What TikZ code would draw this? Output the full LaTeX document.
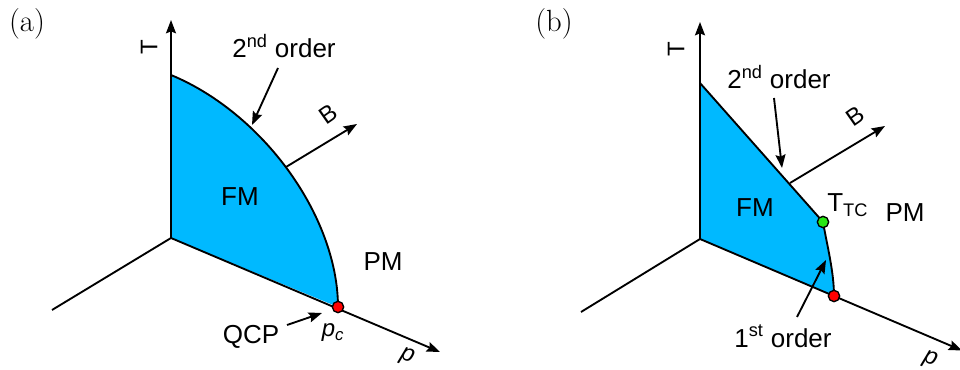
\documentclass[tikz,border=0pt]{standalone}
\usepackage{fontspec}
\setsansfont{Liberation Sans}
\usepackage{tikz}
\usetikzlibrary{arrows.meta}

\definecolor{fmblue}{RGB}{0,185,255}
\definecolor{tcgreen}{RGB}{40,230,20}

\begin{document}
\begin{tikzpicture}[
x=0.75pt, y=-0.75pt,
axis/.style={-{Stealth[length=10pt,width=7.5pt,inset=1.5pt]},line width=1.4pt},
border/.style={line width=1.4pt},
pointer/.style={-{Stealth[length=10pt,width=7.5pt,inset=1.5pt]},line width=1.4pt},
phase/.style={font=\sffamily\fontsize{19.5}{22}\selectfont},
axislabel/.style={font=\sffamily\fontsize{18}{20}\selectfont,inner sep=0pt},
panel/.style={font=\fontsize{23}{26}\selectfont},
dot/.style={circle,draw,line width=1pt,inner sep=0pt,minimum size=8.5pt} ]

\useasboundingbox (0,0) rectangle (960,370);

% (a) continuous transition
\coordinate (oa) at (171,238);
\coordinate (ta) at (171,20);
\coordinate (la) at (52,310);
\coordinate (pa) at (440,352);
\coordinate (ba0) at (286,167);
\coordinate (ba) at (357,124);

\fill[fmblue] (oa) -- plot[domain=0:90,samples=60] ({171+167*cos(\x)},{238+69*cos(\x)-163*sin(\x)}) -- cycle;

\draw[border] plot[domain=0:90,samples=60] ({171+167*cos(\x)},{238+69*cos(\x)-163*sin(\x)});

\draw[axis] (oa) -- (ta);

\draw[border] (oa) -- (la);

\draw[axis] (oa) -- (pa);

\draw[axis] (ba0) -- (ba);

\node[panel] (laba) at (27,24) {(a)};

\node[axislabel,rotate=90] (Ta) at (149,47) {T};

\node[axislabel,rotate=35] (Ba) at (328,114) {B};

\node[axislabel,rotate=-20] (Pa) at (407,357) {\textit{p}};

\node[phase] (FMa) at (240,197) {FM};

\node[phase] (PMa) at (383,262) {PM};

\node[phase,anchor=base] (orda) at (284,58) {2\textsuperscript{nd} order};

\node[phase,anchor=base] (qcp) at (251,344) {QCP};

\node[axislabel] (pca) at (333,333) {\textit{p}\textsubscript{\textit{c}}};

\coordinate (orda0) at (278,68);
\coordinate (orda1) at (252,125);
\coordinate (qcp0) at (287,325);
\coordinate (qcp1) at (322,313);

\draw[pointer] (orda0) -- (orda1);

\draw[pointer] (qcp0) -- (qcp1);

\node[dot,fill=red] (qcpa) at (338,307) {};

% (b) tricritical point
\coordinate (ob) at (700,239);
\coordinate (tb) at (700,22);
\coordinate (lb) at (581,312);
\coordinate (pb) at (962,350.5);
\coordinate (bb0) at (790,183);
\coordinate (bb) at (885,126);
\coordinate (topb) at (700,83);
\coordinate (tcb) at (823,222);
\coordinate (endb) at (834,296);

\fill[fmblue] (ob) -- (endb) .. controls (834,272) and (827,245) .. (tcb) -- (topb) -- cycle;

\draw[border] (topb) -- (tcb) .. controls (827,245) and (834,272) .. (endb);

\draw[axis] (ob) -- (tb);

\draw[border] (ob) -- (lb);

\draw[axis] (ob) -- (pb);

\draw[axis] (bb0) -- (bb);

\node[panel] (labb) at (554,24) {(b)};

\node[axislabel,rotate=90] (Tb) at (676,49) {T};

\node[axislabel,rotate=35] (Bb) at (855,116) {B};

\node[axislabel,rotate=-20] (Pb) at (930,360) {\textit{p}};

\node[phase,anchor=base] (FMb) at (755,217) {FM};

\node[phase,anchor=base] (PMb) at (905,222) {PM};

\node[phase,anchor=base west,inner sep=0pt] (TTC) at (827,212) {T\textsubscript{TC}};

\node[phase,anchor=base] (ordb) at (779,89) {2\textsuperscript{nd} order};

\node[phase,anchor=base] (ordb1) at (783,347) {1\textsuperscript{st} order};

\coordinate (ordb0) at (774,98);
\coordinate (ordb2) at (782,168);
\coordinate (frsb0) at (797,317);
\coordinate (frsb1) at (826,260);

\draw[pointer] (ordb0) -- (ordb2);

\draw[pointer] (frsb0) -- (frsb1);

\node[dot,fill=tcgreen] (tcp) at (tcb) {};

\node[dot,fill=red] (qcpb) at (endb) {};

\end{tikzpicture}
\end{document}
